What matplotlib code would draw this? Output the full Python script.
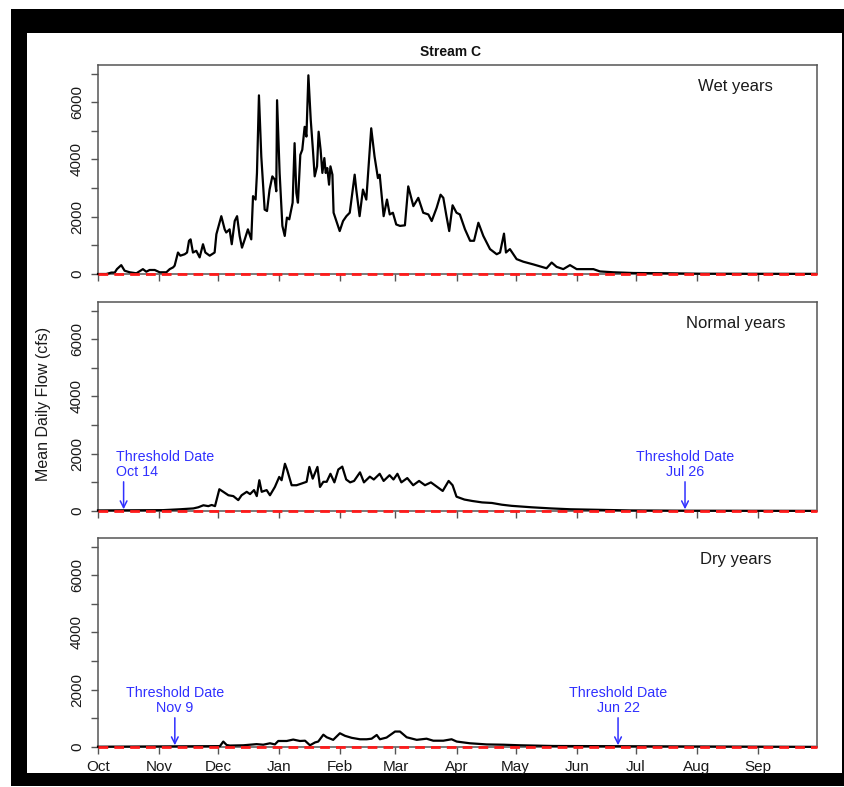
import numpy as np
import matplotlib
matplotlib.use("Agg")
import matplotlib.pyplot as plt
from matplotlib.patches import Rectangle

plt.rcParams['font.family'] = ['Liberation Sans', 'DejaVu Sans']

# day of water year (0 = Oct 1) and mean daily flow (cfs)
wet_day = [0, 4.2, 6.8, 8.5, 9.6, 11.8, 13.5, 16.1, 19.5, 22.8, 24.5, 26.2, 28.8, 31.3, 34.7,
           36.4, 38.1, 38.9, 40.6, 41.8, 44, 45.2, 46.2, 47, 48.2, 49.9, 51.6, 53.3, 54.5,
           56.7, 59.2, 60.1, 62.6, 64.3, 65.1, 66.8, 67.9, 69.4, 70.6, 71.9, 73.1, 74.5,
           76.1, 77.8, 78.7, 80, 80.7, 81.7, 82.9, 84.6, 85.8, 87.1, 88.5, 89.7, 90.5, 90.9,
           92.2, 93.6, 94.8, 95.9, 97.1, 98.8, 99.8, 100.7, 101.5, 102.7, 103.7, 104.9,
           105.8, 106.8, 108, 109.1, 110, 111.2, 112, 113, 113.9, 114.9, 115.6, 116.4,
           117.3, 118, 119, 119.6, 121, 122.7, 124.4, 126.1, 127.8, 130.3, 131.1, 132.8,
           134.5, 136.2, 138.7, 140.4, 142.1, 143, 145, 146.7, 148.1, 149.7, 151.4, 153.3,
           155.8, 157.5, 160.1, 162.6, 165.1, 167.7, 169.4, 171.9, 173.9, 175.3, 176.9,
           178.3, 180, 182, 183.7, 186.3, 188.9, 190.9, 193.1, 195.6, 199, 202.4, 204.1,
           206.1, 207.1, 209.1, 212.5, 215.9, 221, 227.7, 230.3, 232.8, 236.2, 239.6, 243,
           248.1, 251.5, 254.8, 261.6, 271.8, 288.7, 305.7, 364]
wet_flow = [0, 0, 50, 50, 170, 310, 115, 60, 25, 170, 80, 140, 140, 60, 60,
            170, 230, 290, 750, 640, 690, 750, 1160, 1210, 750, 810, 580, 1040, 750,
            640, 750, 1390, 2020, 1560, 1450, 1560, 1040, 1850, 2020, 1330, 920, 1210,
            1560, 1210, 2720, 2600, 3530, 6240, 4100, 2250, 2200, 2950, 3410, 3300, 2890, 6070,
            3530, 1680, 1330, 1970, 1910, 2490, 4570, 2830, 2490, 4160, 4340, 5140,
            4800, 6940, 5380, 4340, 3410, 3760, 4970, 4340, 3530, 4050, 3530, 3700,
            3120, 3760, 3470, 2140, 1850, 1500, 1850, 2020, 2140, 3470, 2950, 2020,
            2950, 2600, 5090, 4100, 3350, 3470, 2020, 2600, 2080, 2140, 1730, 1680,
            1700, 3060, 2370, 2660, 2140, 2080, 1850, 2310, 2770, 2660, 2020,
            1500, 2400, 2140, 2080, 1560, 1160, 1160, 1790, 1330, 870, 690, 750,
            1410, 750, 870, 520, 430, 335, 200, 400, 250, 170, 310, 170,
            170, 170, 90, 60, 35, 25, 10, 5]

normal_day = [0, 33, 41.6, 48.4, 50.9, 53.5, 56, 57.7, 59.4, 61.6, 63.6, 66.2, 68.7, 71.2,
              72.9, 75.5, 77.2, 79.2, 80.6, 81.9, 83.1, 85.6, 87.3, 89.8, 92, 93.2, 94.9,
              96.1, 98.3, 100.8, 103.4, 105.9, 107.3, 109, 111.4, 112.7, 114.4, 116.1,
              118, 120, 122, 124, 126, 128, 130, 133, 135, 138, 140, 143, 145, 148, 150,
              152, 154, 157, 160, 163, 166, 169, 172, 175, 178, 180, 182, 186, 190, 195,
              200, 205, 210, 220, 230, 240, 255, 270, 300, 364]
normal_flow = [20, 30, 60, 90, 130, 200, 170, 210, 170, 760, 670, 550, 520, 380,
               550, 670, 590, 730, 520, 1075, 670, 730, 550, 840, 1190, 1075, 1650,
               1420, 900, 900, 960, 1020, 1540, 1130, 1540, 840, 1020, 1020,
               1300, 1000, 1450, 1550, 1100, 1000, 1050, 1350, 1000, 1200, 1100, 1300,
               1050, 1250, 1100, 1300, 1000, 1150, 900, 1050, 900, 1000, 850, 700,
               1050, 900, 500, 400, 350, 300, 280, 220, 180, 130, 90, 60, 40, 20, 10, 5]

dry_day = [0, 61.9, 63.6, 65.3, 67, 73.8, 80.5, 83.9, 87.3, 89.8, 91.5, 95.8, 99.1, 102.5,
           105.1, 107.6, 110.2, 111.8, 114.4, 116.1, 119.4, 122.8, 125.4, 128.8, 133,
           136.4, 138.9, 141.5, 143.1, 146.5, 150.8, 153.3, 156.7, 161.8, 166.8, 170.2,
           175.3, 179.5, 182.1, 188.8, 197.3, 205.7, 214.2, 231.1, 364]
dry_flow = [10, 30, 190, 70, 50, 60, 100, 80, 130, 90, 210, 210, 260, 210,
            220, 60, 160, 190, 430, 340, 250, 480, 390, 320, 270,
            270, 290, 420, 270, 330, 540, 540, 340, 250, 290, 220,
            220, 270, 190, 130, 90, 80, 60, 35, 5]

panel_names = ["Wet years", "Normal years", "Dry years"]
month_days = [0, 31, 61, 92, 123, 151, 182, 212, 243, 273, 304, 335]
month_labels = ["Oct", "Nov", "Dec", "Jan", "Feb", "Mar", "Apr", "May", "Jun", "Jul", "Aug", "Sep"]

# threshold dates: (day, label, text anchor day, alignment)
thresholds = [
    [],
    [(13, "Oct 14", 9, "left"), (298, "Jul 26", 298, "center")],
    [(39, "Nov 9", 39, "center"), (264, "Jun 22", 264, "center")],
]

W, H = 844, 787
fig = plt.figure(figsize=(W / 100, H / 100), dpi=100)
fig.patch.set_facecolor("white")

# black frame round the chart
fig.patches.append(Rectangle((11 / W, 1 / H), 833 / W, 777 / H, transform=fig.transFigure,
                             facecolor="black", edgecolor="none", zorder=-3))
fig.patches.append(Rectangle((27 / W, 14 / H), 815 / W, 740 / H, transform=fig.transFigure,
                             facecolor="white", edgecolor="none", zorder=-2))

series = [(wet_day, wet_flow), (normal_day, normal_flow), (dry_day, dry_flow)]
tops = [65, 302, 538]
for i, (days, flow) in enumerate(series):
    top = tops[i]
    ax = fig.add_axes([98 / W, 1 - (top + 209) / H, 719 / W, 209 / H])
    ax.plot(days, flow, color="black", lw=1.6, zorder=3, clip_on=False)
    ax.axhline(0, color="#ff1a1a", lw=2, dashes=(3.5, 2.2), zorder=4, clip_on=False)
    ax.set_xlim(0, 365)
    ax.set_ylim(0, 7300)
    ax.set_yticks(range(0, 8000, 1000))
    ax.set_yticklabels(["0", "", "2000", "", "4000", "", "6000", ""])
    ax.set_xticks(month_days)
    if i == 2:
        ax.set_xticklabels(month_labels)
    else:
        ax.set_xticklabels([])
    for lab in ax.get_yticklabels():
        lab.set_rotation(90)
        lab.set_va("center")
    for lab in ax.get_xticklabels():
        lab.set_va("baseline")
    ax.tick_params(axis="both", direction="out", length=5, width=1, color="#555555",
                   labelsize=11, labelcolor="#1a1a1a")
    ax.tick_params(axis="y", pad=5)
    ax.tick_params(axis="x", pad=12)
    for sp in ax.spines.values():
        sp.set_color("#555555")
        sp.set_linewidth(1.1)
    ax.text(0.887, 0.898, panel_names[i], transform=ax.transAxes, ha="center", va="center",
            fontsize=12, color="#1a1a1a")
    for day, lab, tx, ha in thresholds[i]:
        ax.text(tx, 1880, "Threshold Date", color="#3030ff", fontsize=10.3, ha=ha, va="center")
        ax.text(tx, 1360, lab, color="#3030ff", fontsize=10.3, ha=ha, va="center")
        ax.annotate("", xy=(day, 60), xytext=(day, 1020),
                    arrowprops=dict(arrowstyle="->", color="#3030ff", lw=1.1,
                                    mutation_scale=12, shrinkA=0, shrinkB=0), zorder=5)

fig.text(450 / W, 1 - 52 / H, "Stream C", ha="center", va="center", fontsize=10,
         fontweight="bold", color="#111111")
fig.text(44 / W, 1 - 404 / H, "Mean Daily Flow (cfs)", rotation=90, ha="center", va="center",
         fontsize=11.5, color="#1a1a1a")

fig.savefig("out.png", dpi=100)
